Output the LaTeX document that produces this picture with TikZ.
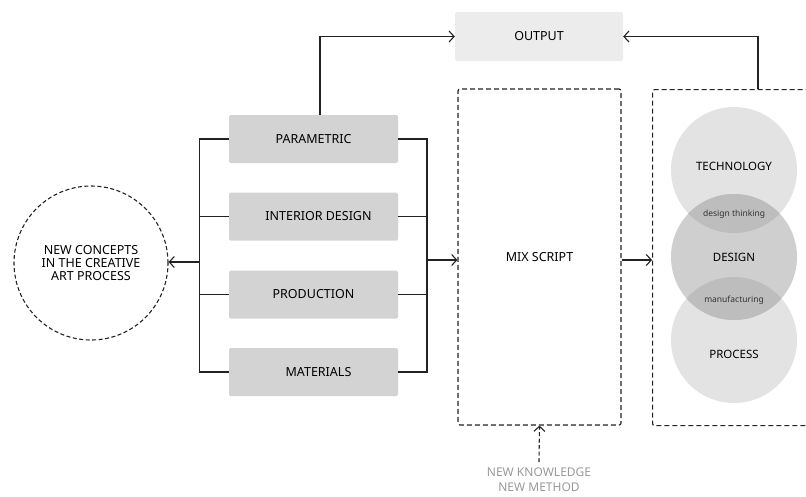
\documentclass[tikz,border=0pt]{standalone}
\usepackage{fontspec}
\setmainfont{Noto Sans}
\usetikzlibrary{arrows.meta,positioning,calc}
\definecolor{boxgray}{HTML}{D3D3D3}
\definecolor{outgray}{HTML}{ECECEC}
\definecolor{lightc}{HTML}{E3E3E3}
\definecolor{midc}{HTML}{CFCFCF}
\definecolor{darkc}{HTML}{BDBDBD}
\definecolor{linec}{HTML}{222222}
\definecolor{notec}{HTML}{999999}
\tikzset{
  every node/.style={font=\fontsize{12.5}{13}\selectfont, text=black},
  tag/.style={rectangle, rounded corners=1.5pt, fill=boxgray, minimum width=169pt, minimum height=48pt, inner sep=0pt},
  frame/.style={rectangle, rounded corners=2pt, draw=linec, line width=1.2pt, dash pattern=on 5pt off 3pt, inner sep=0pt},
  link/.style={draw=linec, line width=1.1pt},
  arr/.style={link, -{Straight Barb[length=5pt, width=11pt, line width=1.1pt]}},
  ring/.style={circle, minimum size=126pt, inner sep=0pt},
  small/.style={font=\fontsize{8.5}{10}\selectfont, text=black!80},
}
\begin{document}
\begin{tikzpicture}[x=1pt, y=-1pt]
\useasboundingbox (0,0) rectangle (806,496);
\clip (0,0) rectangle (806,496);

% output box
\node[rectangle, rounded corners=1.5pt, fill=outgray, minimum width=168pt, minimum height=49pt, inner sep=0pt] (out) at (539,36.5) {OUTPUT};

% category boxes
\node[tag] (par) at (313.5,139) {PARAMETRIC};
\node[tag] (int) at (313.5,216.5) {\hspace{10pt}INTERIOR DESIGN};
\node[tag] (pro) at (313.5,294.5) {PRODUCTION};
\node[tag] (mat) at (313.5,372) {\hspace{10pt}MATERIALS};

% concept circle
\node[circle, draw=linec, line width=1.1pt, dash pattern=on 4pt off 2.5pt, minimum size=154pt, inner sep=0pt, align=center] (concept) at (91,263) {NEW CONCEPTS\\IN THE CREATIVE\\ART PROCESS};

% mix script frame and the open frame on the right
\node[frame, minimum width=163pt, minimum height=336pt] (mix) at (539.5,257) {MIX SCRIPT};
\node[frame, minimum width=200pt, minimum height=336pt, anchor=north west] (area) at (652,89) {};

% bus lines on both sides of the boxes
\coordinate (lb) at (199.5,262);
\coordinate (rb) at (427,260);
\draw[link] (par.west) -| (199.5,139) -- (199.5,372) -- (mat.west);
\draw[link] (int.west) -- (199.5,216.5);
\draw[link] (pro.west) -- (199.5,294.5);
\draw[link] (par.east) -- (427,139) -- (427,372) -- (mat.east);
\draw[link] (int.east) -- (427,216.5);
\draw[link] (pro.east) -- (427,294.5);
\draw[arr] (lb) -- (concept.east |- lb);
\draw[arr] (rb) -- (mix.west |- rb);
\draw[arr] (mix.east |- rb) -- (area.west |- rb);

% links up to the output
\coordinate (pt) at (320,0);
\draw[arr] (pt |- par.north) |- (out.west);
\coordinate (at) at (758,0);
\draw[arr] (at |- area.north) |- (out.east);

% overlapping circles
\node[ring, fill=lightc] (tech) at (734,170) {};
\node[ring, fill=lightc] (proc) at (734,340) {};
\node[ring, fill=midc] (des) at (734,257) {};
\begin{scope}
  \clip (734,170) circle (63pt);
  \fill[darkc] (734,257) circle (63pt);
\end{scope}
\begin{scope}
  \clip (734,340) circle (63pt);
  \fill[darkc] (734,257) circle (63pt);
\end{scope}
\node[font=\fontsize{11.5}{13}\selectfont] at (734,166) {TECHNOLOGY};
\node[font=\fontsize{11.5}{13}\selectfont] at (734,257) {DESIGN};
\node[font=\fontsize{11.5}{13}\selectfont] at (734,354) {PROCESS};
\node[small] at (734,214) {design thinking};
\node[small] at (734,300) {manufacturing};

% new knowledge input
\node[text=notec, align=center, font=\fontsize{12}{15}\selectfont] (know) at (539,479.5) {NEW KNOWLEDGE\\NEW METHOD};
\draw[link, dash pattern=on 4pt off 2.5pt, -{Straight Barb[length=5pt, width=11pt, line width=1.1pt]}] (539,462) -- (mix.south);
\end{tikzpicture}
\end{document}
